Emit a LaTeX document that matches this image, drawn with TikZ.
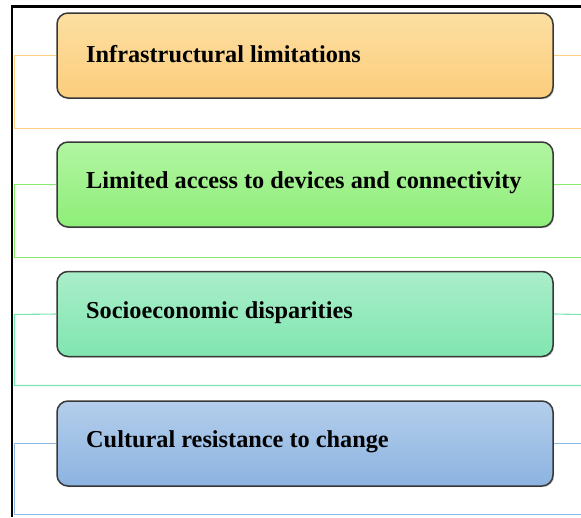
\documentclass[tikz,border=0pt]{standalone}
\usepackage{fontspec}
\setmainfont{Liberation Serif}
\usetikzlibrary{shadows}
\definecolor{orA}{HTML}{FCDFA2}
\definecolor{orB}{HTML}{FCCD7C}
\definecolor{orL}{HTML}{FFD080}
\definecolor{grA}{HTML}{B2F5A2}
\definecolor{grB}{HTML}{8EEE78}
\definecolor{grL}{HTML}{86EA6E}
\definecolor{tlA}{HTML}{AAEDCA}
\definecolor{tlB}{HTML}{80E6B0}
\definecolor{tlL}{HTML}{7EE4B2}
\definecolor{blA}{HTML}{B4CEEB}
\definecolor{blB}{HTML}{8CB3E1}
\definecolor{blL}{HTML}{8EB8E6}
\definecolor{edge}{HTML}{383838}
\tikzset{
  x=1pt, y=-1pt,
  itembox/.style={draw=edge, line width=1.5pt, rounded corners=11pt,
    minimum width=496pt, minimum height=85pt, inner sep=0pt,
    drop shadow={shadow xshift=1.2pt, shadow yshift=-1.2pt, opacity=0.35, fill=gray}},
  itemtext/.style={anchor=west, font=\bfseries\fontsize{24.3}{28}\selectfont, text=black, inner sep=0pt},
  bandline/.style={line width=1.1pt},
  frameline/.style={line width=2.6pt, draw=black}
}
\begin{document}
\begin{tikzpicture}
\useasboundingbox[fill=white] (0,0) rectangle (581,517);

% boxes
\node[itembox, top color=orA, bottom color=orB] (b1) at (305,55.5) {};
\node[itembox, top color=grA, bottom color=grB] (b2) at (305,184.5) {};
\node[itembox, top color=tlA, bottom color=tlB] (b3) at (305,314) {};
\node[itembox, top color=blA, bottom color=blB] (b4) at (305,443.5) {};

% labels
\node[itemtext] (t1) at (86,54) {Infrastructural limitations};
\node[itemtext] (t2) at (86,183) {Limited access to devices and connectivity};
\node[itemtext] (t3) at (86,312.5) {Socioeconomic disparities};
\node[itemtext] (t4) at (86,442) {Cultural resistance to change};

% bands: bracket from the box middle down to the band's lower edge
\coordinate (r1) at (581,55.5);  \coordinate (l1) at (14.5,55.5);
\coordinate (s1) at (14.5,128.5);  \coordinate (e1) at (581,128.5);
\coordinate (r2) at (581,184.5); \coordinate (l2) at (14.5,184.5);
\coordinate (s2) at (14.5,257.5);  \coordinate (e2) at (581,257.5);
\coordinate (r3) at (581,314.5);   \coordinate (l3) at (14.5,314.5);
\coordinate (s3) at (14.5,385.5); \coordinate (e3) at (581,385.5);
\coordinate (r4) at (581,443.5); \coordinate (l4) at (14.5,443.5);
\coordinate (s4) at (14.5,514.5);  \coordinate (e4) at (581,514.5);

\draw[bandline, orL] (b1.west) -- (l1) -- (s1) -- (e1);
\draw[bandline, orL] (b1.east) -- (r1);
\draw[bandline, grL] (b2.west) -- (l2) -- (s2) -- (e2);
\draw[bandline, grL] (b2.east) -- (r2);
\draw[bandline, tlL] (b3.west) -- (l3) -- (s3) -- (e3);
\draw[bandline, tlL] (b3.east) -- (r3);
\draw[bandline, blL] (b4.west) -- (l4) -- (s4) -- (e4);
\draw[bandline, blL] (b4.east) -- (r4);

% outer frame
\coordinate (fa) at (581,6.5);
\coordinate (fb) at (10.5,6.5);
\coordinate (fc) at (11.8,5.2);
\coordinate (fd) at (11.8,517);
\draw[frameline] (fa) -- (fb);
\draw[frameline] (fc) -- (fd);
\end{tikzpicture}
\end{document}
